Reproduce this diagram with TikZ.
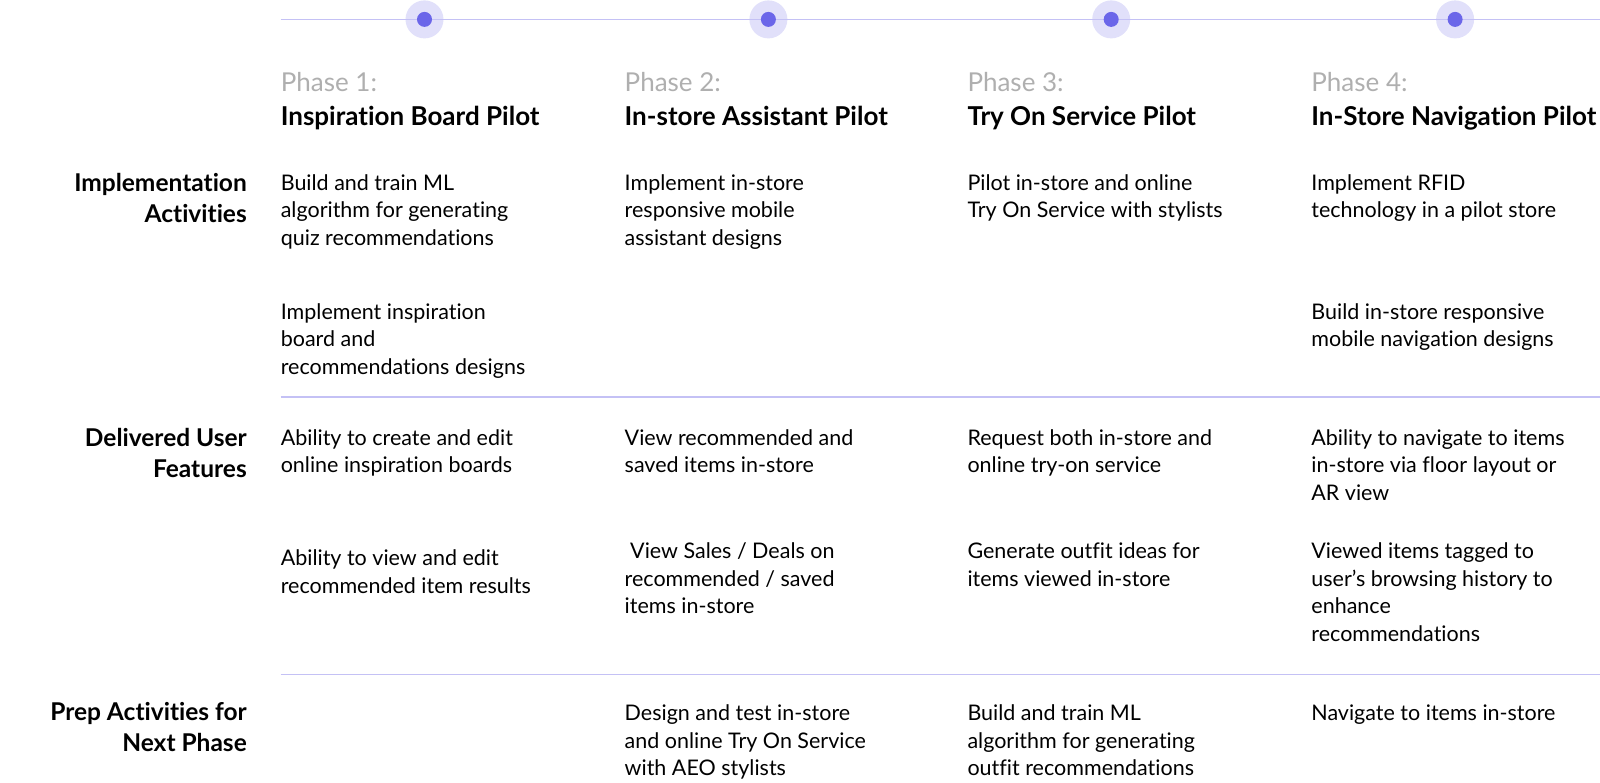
\documentclass[tikz,border=0pt]{standalone}
\usepackage{fontspec}
\setmainfont{Lato}[Ligatures=NoCommon]
\usetikzlibrary{positioning}
\definecolor{rulecol}{HTML}{C4C1F5}
\definecolor{dotcol}{HTML}{6B66E9}
\definecolor{halocol}{HTML}{E1E0FA}
\definecolor{phasegray}{HTML}{AFAFAF}
\tikzstyle{halo} = [circle, fill=halocol, minimum size=38pt, inner sep=0pt]
\tikzstyle{dot} = [circle, fill=dotcol, minimum size=15pt, inner sep=0pt]
\tikzstyle{rule} = [draw=rulecol, line width=1.5pt]
\tikzstyle{phase} = [anchor=base west, inner sep=0pt, text=phasegray, font={\fontsize{26}{30}\selectfont}]
\tikzstyle{title} = [anchor=base west, inner sep=0pt, font={\fontsize{26}{30}\selectfont\bfseries}]
\tikzstyle{rowlabel} = [anchor=north east, inner sep=0pt, align=right, font={\fontsize{24.5}{31.4}\selectfont\bfseries}]
\tikzstyle{cell} = [anchor=north west, inner sep=0pt, align=left, font={\fontsize{21.5}{27.6}\selectfont}]

\begin{document}
\begin{tikzpicture}[x=1pt,y=-1pt]
        \useasboundingbox (0,0) rectangle (1600,783);
        % timeline
        \coordinate (tl0) at (280.6,19.4);
        \coordinate (tl1) at (1600,19.4);
        \foreach \x/\n in {424.5/1,768.4/2,1111.2/3,1455.1/4}
          \node[halo](halo\n) at (\x,19.4){};
        \draw[rule](tl0)--(tl1);
        \foreach \x/\n in {424.5/1,768.4/2,1111.2/3,1455.1/4}
          \node[dot](dot\n) at (\x,19.4){};
        % phase headings
        \node[phase](ph1) at (280.6,92){Phase 1:};
        \node[phase](ph2) at (624.5,92){Phase 2:};
        \node[phase](ph3) at (967.3,92){Phase 3:};
        \node[phase](ph4) at (1311.2,92){Phase 4:};
        \node[title](t1) at (280.6,125.5){Inspiration Board Pilot};
        \node[title](t2) at (624.5,125.5){In-store Assistant Pilot};
        \node[title](t3) at (967.3,125.5){Try On Service Pilot};
        \node[title](t4) at (1311.2,125.5){In-Store Navigation Pilot};
        % row labels
        \node[rowlabel](impl) at (247,173){Implementation\\Activities};
        \node[rowlabel](deliv) at (247,428){Delivered User\\Features};
        \node[rowlabel](prep) at (247,702){Prep Activities for\\Next Phase};
        % implementation activities
        \node[cell](i1a) at (280.6,174){Build and train ML\\algorithm for generating\\quiz recommendations};
        \node[cell](i1b) at (280.6,303){Implement inspiration\\board and\\recommendations designs};
        \node[cell](i2a) at (624.5,174){Implement in-store\\responsive mobile\\assistant designs};
        \node[cell](i3a) at (967.3,174){Pilot in-store and online\\Try On Service with stylists};
        \node[cell](i4a) at (1311.2,174){Implement RFID\\technology in a pilot store};
        \node[cell](i4b) at (1311.2,303){Build in-store responsive\\mobile navigation designs};
        \coordinate (sep1a) at (280.6,397);
        \coordinate (sep1b) at (1600,397);
        \draw[rule](sep1a)--(sep1b);
        % delivered user features
        \node[cell](d1a) at (280.6,429){Ability to create and edit\\online inspiration boards};
        \node[cell](d1b) at (280.6,549.5){Ability to view and edit\\recommended item results};
        \node[cell](d2a) at (624.5,429){View recommended and\\saved items in-store};
        \node[cell](d2b) at (624.5,542.5){\ View Sales / Deals on\\recommended / saved\\items in-store};
        \node[cell](d3a) at (967.3,429){Request both in-store and\\online try-on service};
        \node[cell](d3b) at (967.3,542.5){Generate outfit ideas for\\items viewed in-store};
        \node[cell](d4a) at (1311.2,429){Ability to navigate to items\\in-store via floor layout or\\AR view};
        \node[cell](d4b) at (1311.2,542.5){Viewed items tagged to\\user’s browsing history to\\enhance\\recommendations};
        \coordinate (sep2a) at (280.6,674.5);
        \coordinate (sep2b) at (1600,674.5);
        \draw[rule](sep2a)--(sep2b);
        % prep activities for next phase
        \node[cell](p2) at (624.5,704.5){Design and test in-store\\and online Try On Service\\with AEO stylists};
        \node[cell](p3) at (967.3,704.5){Build and train ML\\algorithm for generating\\outfit recommendations};
        \node[cell](p4) at (1311.2,704.5){Navigate to items in-store};
      \end{tikzpicture}
\end{document}
